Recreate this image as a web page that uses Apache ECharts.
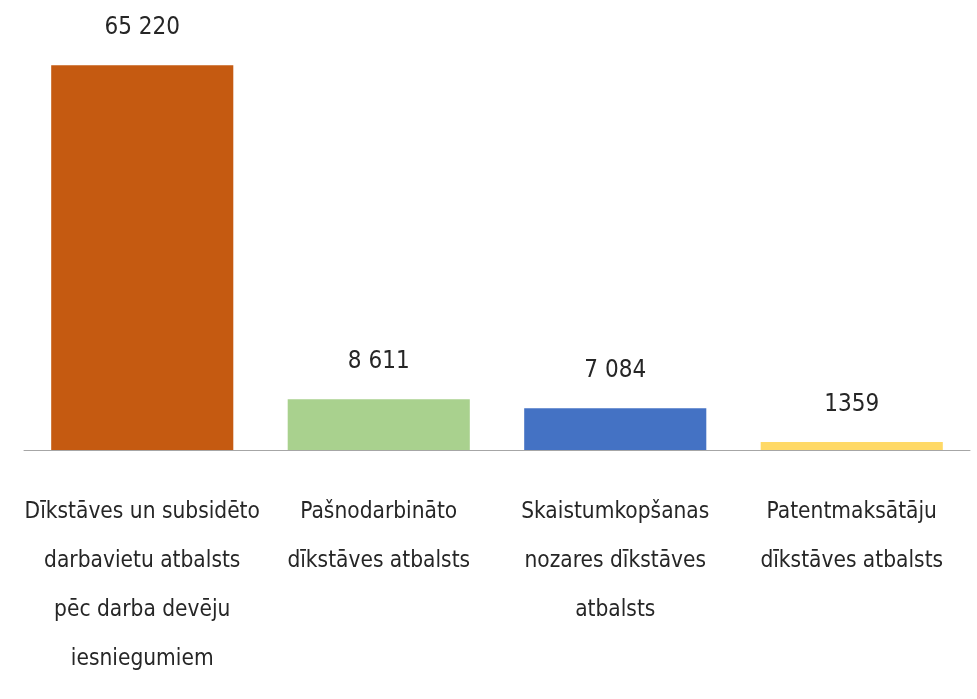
<!DOCTYPE html>
<html>
<head>
<meta charset="utf-8">
<script src="https://cdn.jsdelivr.net/npm/echarts@6/dist/echarts.min.js"></script>
<style>
  html, body { margin: 0; padding: 0; background: #fff; }
  #chart { width: 977px; height: 699px; }
</style>
</head>
<body>
<div id="chart"></div>
<script>
// chart data
var categories = [
  'Dīkstāves un subsidēto\ndarbavietu atbalsts\npēc darba devēju\niesniegumiem',
  'Pašnodarbināto\ndīkstāves atbalsts',
  'Skaistumkopšanas\nnozares dīkstāves\natbalsts',
  'Patentmaksātāju\ndīkstāves atbalsts'
];
var values = [65220, 8611, 7084, 1359];
var valueLabels = ['65 220', '8 611', '7 084', '1359'];
var barColors = ['#C55A11', '#A9D18E', '#4472C4', '#FFD966'];

var FONT = '"Liberation Sans Narrow", "DejaVu Sans Condensed", sans-serif';
var TEXT = '#262626';

var chart = echarts.init(document.getElementById('chart'), null, { renderer: 'canvas' });

chart.setOption({
  animation: false,
  backgroundColor: '#ffffff',
  grid: { left: 24, right: 7, top: 37, bottom: 249, containLabel: false },
  xAxis: {
    type: 'category',
    data: categories,
    axisLine: { lineStyle: { color: '#a6a6a6', width: 1 } },
    axisTick: { show: false },
    axisLabel: {
      interval: 0,
      margin: 38,
      color: TEXT,
      fontFamily: FONT,
      fontSize: 22.5,
      lineHeight: 49
    }
  },
  yAxis: {
    type: 'value',
    min: 0,
    max: 70000,
    show: false,
    splitLine: { show: false }
  },
  series: [{
    type: 'bar',
    barWidth: '77%',
    data: values.map(function (v, i) {
      return { value: v, itemStyle: { color: barColors[i] } };
    }),
    label: {
      show: true,
      position: 'top',
      distance: 25,
      color: TEXT,
      fontFamily: FONT,
      fontSize: 24,
      formatter: function (p) { return valueLabels[p.dataIndex]; }
    }
  }]
});
</script>
</body>
</html>
